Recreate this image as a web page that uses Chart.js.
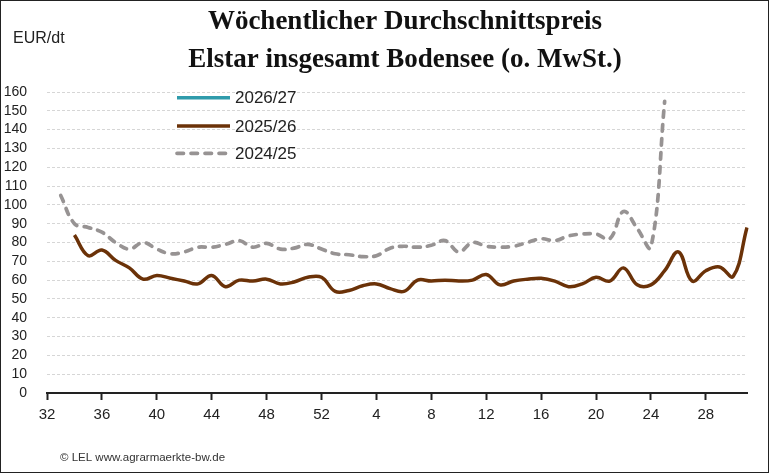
<!DOCTYPE html>
<html>
<head>
<meta charset="utf-8">
<script src="https://cdn.jsdelivr.net/npm/chart.js@4.4.1/dist/chart.umd.min.js"></script>
<style>
  html, body { margin: 0; padding: 0; background: #fff; }
  canvas { display: block; }
</style>
</head>
<body>
<canvas id="myChart" width="769" height="473"></canvas>
<script>
// Kalenderwochen 32..52, dann 1..31
const weeks = []
for (let w = 32; w <= 52; w++) weeks.push(String(w))
for (let w = 1; w <= 31; w++) weeks.push(String(w))

const season2627 = []

const season2526 = [null, null, 84, 73, 76, 70.5, 66.5, 60.5, 62.5, 61, 59.5, 58, 62.5, 56.5, 60, 59.5,
  60.5, 58, 59, 61.5, 61.5, 54, 54.5, 57, 58, 55.5, 54, 60, 59.5, 60, 59.5, 60, 63, 57.5, 59.5, 60.5,
  61, 59.5, 56.5, 58, 61.5, 59.5, 66.5, 57.5, 57.5, 65, 75, 59.5, 65, 67, 62, 88]

const season2425 = [null, 105, 90, 88, 85.5, 80, 76.5, 80, 76.5, 74, 75, 77.5, 77.5, 79, 81, 77.5,
  79.5, 76.5, 77, 79, 76.5, 74, 73.5, 72.5, 73, 77, 78, 77.5, 78.5, 81, 75, 80, 78, 77.5, 78, 80,
  82, 81, 83.5, 84.5, 84.5, 82, 96.5, 87.5, 77.5, 155]

const titleLines = ['Wöchentlicher Durchschnittspreis', 'Elstar insgesamt Bodensee (o. MwSt.)']
const unitLabel = 'EUR/dt'
const footerText = '© LEL www.agrarmaerkte-bw.de'

const sansFont = '"Liberation Sans", Arial, sans-serif'

// Texte, Legende und Rahmen selbst zeichnen
const decorations = {
  id: 'decorations',
  afterDraw(chart) {
    const ctx = chart.ctx
    ctx.save()
    ctx.fillStyle = '#111'
    ctx.textAlign = 'center'
    ctx.textBaseline = 'middle'
    ctx.font = 'bold 27px "Liberation Serif", "Times New Roman", serif'
    ctx.fillText(titleLines[0], 405, 22)
    ctx.fillText(titleLines[1], 405, 60)

    ctx.textAlign = 'left'
    ctx.font = '16px ' + sansFont
    ctx.fillStyle = '#222'
    ctx.fillText(unitLabel, 13, 39)

    ctx.font = '11.5px ' + sansFont
    ctx.fillStyle = '#333'
    ctx.fillText(footerText, 60, 458)

    // Legende im Diagramm
    const rows = [97.7, 126, 153.3]
    chart.data.datasets.forEach((ds, i) => {
      const y = rows[i]
      ctx.beginPath()
      ctx.strokeStyle = ds.borderColor
      ctx.lineWidth = ds.borderWidth
      ctx.lineCap = ds.borderCapStyle || 'butt'
      ctx.setLineDash(ds.borderDash || [])
      ctx.moveTo(177, y)
      ctx.lineTo(230, y)
      ctx.stroke()
      ctx.setLineDash([])
      ctx.fillStyle = '#222'
      ctx.font = '17px ' + sansFont
      ctx.fillText(ds.label, 235, y + 1)
    })

    ctx.strokeStyle = '#222'
    ctx.lineWidth = 1
    ctx.strokeRect(0.5, 0.5, chart.width - 1, chart.height - 1)
    ctx.restore()
  }
}

const canvas = document.getElementById('myChart')

const config = {
  type: 'line',
  data: {
    labels: weeks,
    datasets: [
      {
        label: '2026/27',
        data: season2627,
        borderColor: '#2f9bab',
        borderWidth: 3.5
      },
      {
        label: '2025/26',
        data: season2526,
        borderColor: '#6b3208',
        borderWidth: 3.5
      },
      {
        label: '2024/25',
        data: season2425,
        borderColor: '#979393',
        borderWidth: 3.7,
        borderDash: [6.5, 7.5],
        borderCapStyle: 'round'
      }
    ]
  },
  options: {
    responsive: false,
    animation: false,
    devicePixelRatio: 1,
    elements: {
      point: { radius: 0 },
      line: { tension: 0.4 }
    },
    layout: {
      padding: { top: 92, right: 22, left: 0, bottom: 0 }
    },
    plugins: {
      legend: { display: false },
      title: { display: false },
      tooltip: { enabled: false }
    },
    scales: {
      x: {
        afterFit: s => { s.height = 80 },
        grid: {
          drawOnChartArea: false,
          tickLength: 7,
          tickWidth: 2,
          color: c => (c.index % 4 === 0 ? '#222' : 'rgba(0,0,0,0)')
        },
        border: { display: true, color: '#222', width: 2 },
        ticks: {
          autoSkip: false,
          maxRotation: 0,
          padding: 6,
          color: '#222',
          font: { family: sansFont, size: 15 },
          callback: function (val, index) {
            return index % 4 === 0 ? this.getLabelForValue(val) : ''
          }
        }
      },
      y: {
        min: 0,
        max: 160,
        afterFit: s => { s.width = 47 },
        grid: {
          color: c => (c.tick.value === 0 ? 'rgba(0,0,0,0)' : '#d6d6d6'),
          lineWidth: 1,
          drawTicks: false
        },
        border: { display: false, dash: [3, 2] },
        ticks: {
          stepSize: 10,
          autoSkip: false,
          padding: 20,
          color: '#222',
          font: { family: sansFont, size: 14 }
        }
      }
    }
  },
  plugins: [decorations]
}

const myChart = new Chart(canvas, config)
</script>
</body>
</html>
